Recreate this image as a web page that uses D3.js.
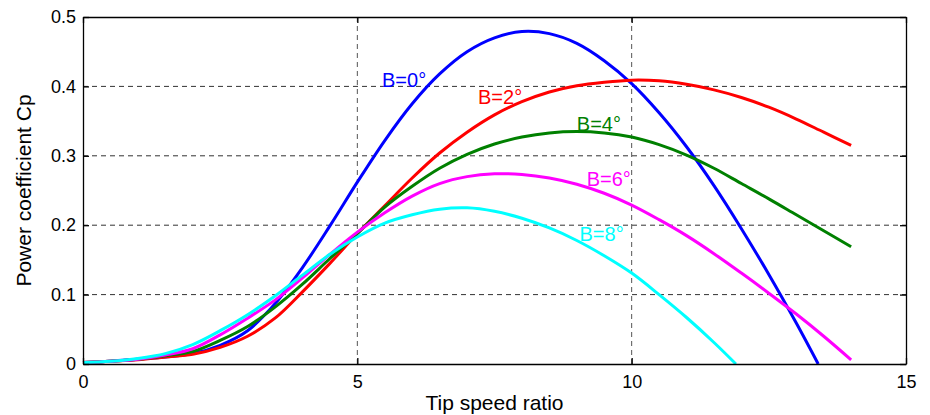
<!DOCTYPE html>
<html>
<head>
<meta charset="utf-8">
<script src="https://cdn.jsdelivr.net/npm/d3@7"></script>
<style>
  html, body { margin: 0; padding: 0; background: #fff; }
  svg { display: block; font-family: "Liberation Sans", Arial, Helvetica, sans-serif; }
</style>
</head>
<body>
<div id="chart"></div>
<script>
// tip speed ratio samples
const tsr = [0, 0.5, 1, 1.5, 2, 2.5, 3, 3.5, 4, 4.5, 5, 5.5, 6, 6.5, 7, 7.5, 8, 8.5, 9, 9.5, 10, 10.5, 11, 11.5, 12, 12.5, 13, 13.5, 14];
const tsrB0 = [0, 0.5, 1, 1.5, 2, 2.5, 3, 3.5, 4, 4.5, 5, 5.5, 6, 6.5, 7, 7.5, 8, 8.5, 9, 9.5, 10, 10.5, 11, 11.5, 12, 12.5, 13, 13.4];
const tsrB8 = [0, 0.5, 1, 1.5, 2, 2.5, 3, 3.5, 4, 4.5, 5, 5.5, 6, 6.5, 7, 7.5, 8, 8.5, 9, 9.5, 10, 10.5, 11, 11.5, 11.9];

// power coefficient
const cpB0 = [0.002, 0.004, 0.007, 0.010, 0.015, 0.027, 0.048, 0.087, 0.139, 0.199, 0.262, 0.322, 0.375, 0.418, 0.450, 0.470, 0.479, 0.476, 0.462, 0.437, 0.404, 0.362, 0.313, 0.257, 0.195, 0.129, 0.059, 0];
const cpB2 = [0.002, 0.004, 0.006, 0.010, 0.014, 0.024, 0.040, 0.066, 0.104, 0.145, 0.188, 0.228, 0.268, 0.304, 0.334, 0.359, 0.378, 0.392, 0.401, 0.406, 0.409, 0.408, 0.403, 0.395, 0.384, 0.370, 0.353, 0.334, 0.315];
const cpB4 = [0.002, 0.004, 0.007, 0.012, 0.018, 0.034, 0.054, 0.082, 0.115, 0.152, 0.188, 0.226, 0.256, 0.282, 0.302, 0.317, 0.327, 0.333, 0.335, 0.333, 0.327, 0.316, 0.301, 0.282, 0.260, 0.238, 0.215, 0.192, 0.169];
const cpB6 = [0.002, 0.004, 0.007, 0.013, 0.022, 0.042, 0.066, 0.092, 0.124, 0.158, 0.190, 0.218, 0.242, 0.260, 0.270, 0.274, 0.273, 0.268, 0.259, 0.246, 0.229, 0.208, 0.185, 0.159, 0.131, 0.102, 0.072, 0.040, 0.006];
const cpB8 = [0.002, 0.004, 0.008, 0.015, 0.028, 0.048, 0.071, 0.098, 0.128, 0.158, 0.183, 0.203, 0.215, 0.223, 0.225, 0.220, 0.210, 0.196, 0.178, 0.156, 0.131, 0.100, 0.067, 0.031, 0];

const xTicks = [0, 5, 10, 15];
const yTicks = [0, 0.1, 0.2, 0.3, 0.4, 0.5];

const series = [
    { label: "B=0°", x: tsrB0, y: cpB0, color: "#0000ff", lx: 5.45, ly: 0.399 },
    { label: "B=2°", x: tsr, y: cpB2, color: "#ff0000", lx: 7.2, ly: 0.375 },
    { label: "B=4°", x: tsr, y: cpB4, color: "#008000", lx: 9.0, ly: 0.336 },
    { label: "B=6°", x: tsr, y: cpB6, color: "#ff00ff", lx: 9.18, ly: 0.256 },
    { label: "B=8°", x: tsrB8, y: cpB8, color: "#00ffff", lx: 9.05, ly: 0.177 }
];

const margin = { top: 17, right: 24, bottom: 51, left: 83 };
const W = 930, H = 415;
const width = W - margin.left - margin.right;
const height = H - margin.top - margin.bottom;

const svg = d3.select("#chart").append("svg")
    .attr("width", W)
    .attr("height", H);

const g = svg.append("g")
    .attr("transform", `translate(${margin.left},${margin.top})`);

const xScale = d3.scaleLinear().domain([0, 15]).range([0, width]);
const yScale = d3.scaleLinear().domain([0, 0.5]).range([height, 0]);

// dashed grid
g.append("g")
    .selectAll("line")
    .data(yTicks.slice(1, -1))
    .enter().append("line")
    .attr("x1", 0).attr("x2", width)
    .attr("y1", d => yScale(d)).attr("y2", d => yScale(d))
    .attr("stroke", "#333")
    .attr("stroke-dasharray", "5,4");

g.append("g")
    .selectAll("line")
    .data(xTicks.slice(1, -1))
    .enter().append("line")
    .attr("y1", 0).attr("y2", height)
    .attr("x1", d => xScale(d)).attr("x2", d => xScale(d))
    .attr("stroke", "#555")
    .attr("stroke-dasharray", "5,4");

// curves
const line = d3.line()
    .x(d => xScale(d[0]))
    .y(d => yScale(d[1]))
    .curve(d3.curveCatmullRom.alpha(0.5));

series.forEach(s => {
    const pts = s.x.map((v, i) => [v, s.y[i]]);
    g.append("path")
        .datum(pts)
        .attr("fill", "none")
        .attr("stroke", s.color)
        .attr("stroke-width", 3)
        .attr("d", line);
});

series.forEach(s => {
    g.append("text")
        .attr("x", xScale(s.lx))
        .attr("y", yScale(s.ly))
        .style("font-size", "20px")
        .style("fill", s.color)
        .text(s.label);
});

// axes, ticks inward
const fmt = d => d === 0 ? "0" : d3.format(".1f")(d);

g.append("g")
    .attr("transform", `translate(0,${height})`)
    .call(d3.axisBottom(xScale).tickValues(xTicks).tickSizeInner(-6).tickSizeOuter(0).tickPadding(11));

g.append("g")
    .call(d3.axisLeft(yScale).tickValues(yTicks).tickFormat(fmt).tickSizeInner(-6).tickSizeOuter(0).tickPadding(7));

g.append("g")
    .call(d3.axisTop(xScale).tickValues(xTicks).tickSizeInner(-6).tickSizeOuter(0).tickFormat(""));

g.append("g")
    .attr("transform", `translate(${width},0)`)
    .call(d3.axisRight(yScale).tickValues(yTicks).tickSizeInner(-6).tickSizeOuter(0).tickFormat(""));

g.selectAll(".domain, .tick line").attr("stroke", "#000").attr("stroke-width", 1.3);
g.selectAll(".tick text")
    .style("font-size", "18px")
    .style("fill", "#000")
    .style("font-family", "'Liberation Sans', Arial, sans-serif");

// axis labels
svg.append("text")
    .attr("transform", `translate(31, ${margin.top + height / 2}) rotate(-90)`)
    .style("text-anchor", "middle")
    .style("font-size", "21px")
    .style("fill", "#000")
    .text("Power coefficient Cp");

svg.append("text")
    .attr("x", margin.left + width / 2)
    .attr("y", 410)
    .style("text-anchor", "middle")
    .style("font-size", "21px")
    .style("fill", "#000")
    .text("Tip speed ratio");
</script>
</body>
</html>
